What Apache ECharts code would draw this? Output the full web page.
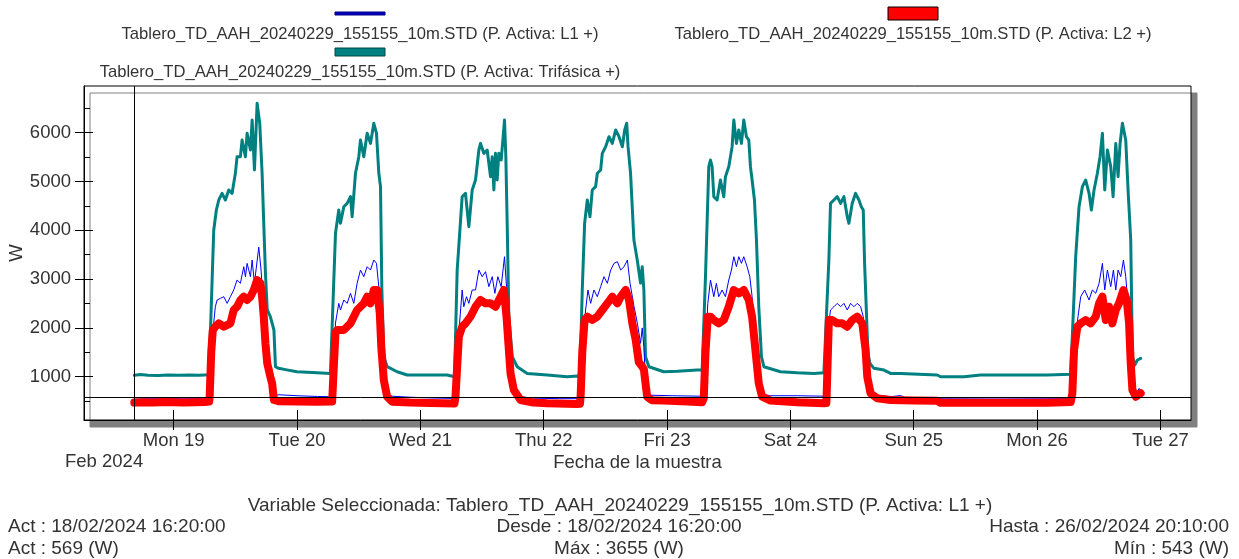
<!DOCTYPE html>
<html><head><meta charset="utf-8">
<script src="https://cdn.jsdelivr.net/npm/echarts@6/dist/echarts.min.js"></script>
<style>html,body{margin:0;padding:0;background:#fff}#c{width:1239px;height:559px}</style>
</head><body><div id="c"></div>
<script>
// ---- data: [hours since 2024-02-19 00:00, W] ----
const seriesNames = [
  'Tablero_TD_AAH_20240229_155155_10m.STD (P. Activa: L1 +)',
  'Tablero_TD_AAH_20240229_155155_10m.STD (P. Activa: L2 +)',
  'Tablero_TD_AAH_20240229_155155_10m.STD (P. Activa: Trifásica +)'
];
const dayTicks = ['2024-02-19','2024-02-20','2024-02-21','2024-02-22','2024-02-23','2024-02-24','2024-02-25','2024-02-26','2024-02-27'];
const dayLabels = ['Mon 19','Tue 20','Wed 21','Thu 22','Fri 23','Sat 24','Sun 25','Mon 26','Tue 27'];
const yLabelTicks = [1000,2000,3000,4000,5000,6000];
const yMinorTicks = [500,1500,2500,3500,4500,5500,6500];
const dataStart = '2024-02-18T16:20:00Z';
const dataEnd = '2024-02-26T20:10:00Z';
const actValue = 569, maxValue = 3655, minValue = 543;

const tri = [
[-7.67,1030],[-6.5,1045],[-5,1030],[-3,1025],[-1,1035],[1,1030],[3,1035],[5,1030],[6.82,1040],
[7.2,2100],[7.79,4006],[8.3,4416],[8.77,4621],[9.41,4758],[10.06,4621],[10.71,4826],[11.36,4758],[12.0,5168],[12.33,5508],[12.98,5508],[13.3,5850],[13.95,5508],[14.28,5988],[14.93,5645],[15.26,6260],[15.71,5236],[16.23,6602],[16.74,6193],[17.2,5168],[17.52,4143],[17.85,3119],[18.2,2367],[18.8,2230],[19.5,1957],[19.8,1205],[20.4,1172],[22,1140],[24,1102],[27,1085],[30.5,1068],
[30.83,1070],[31.48,3938],[32.12,4416],[32.45,4143],[33.1,4484],[33.75,4553],[34.4,4689],[34.72,4279],[35.37,5168],[36.02,5508],[36.34,5850],[36.99,5508],[37.64,5988],[38.29,5781],[38.94,6193],[39.46,5988],[39.91,5168],[40.24,4894],[40.5,2800],[40.88,1410],[41.53,1205],[43.48,1102],[45.43,1035],[50,1035],[53.22,1035],[54.64,1000],
[55.16,3186],[56.13,4689],[56.78,4758],[57.23,4279],[57.43,4074],[58.08,4826],[58.73,5031],[59.38,5645],[59.7,5781],[60.35,5577],[61.0,5645],[61.65,5099],[61.98,5508],[62.3,4826],[62.62,5577],[62.94,5031],[63.27,5577],[63.72,5440],[64.11,5918],[64.37,6260],[64.63,5508],[64.89,4143],[65.22,2230],[65.87,1410],[66.84,1205],[68.79,1068],[72.68,1035],[76.58,1000],[78.53,1015],[79.04,1000],
[79.5,2777],[79.96,4143],[80.48,4621],[81.0,4279],[81.45,4826],[82.1,4894],[82.43,5168],[83.08,5236],[83.4,5577],[84.05,5713],[84.7,5918],[85.35,5781],[86.0,6056],[86.65,5918],[87.3,5713],[87.76,6056],[88.15,6193],[88.41,5713],[88.9,5168],[89.55,3801],[90.2,3391],[90.84,2920],[91.17,3254],[91.49,2777],[91.81,1410],[92.47,1205],[95.36,1102],[98,1110],[101.85,1136],[102.83,1136],
[103.48,3050],[104.12,5304],[104.45,5440],[104.77,5304],[105.1,4689],[105.74,4621],[106.39,5031],[107.04,4689],[107.36,5099],[108.01,5304],[108.66,5713],[108.99,6260],[109.5,5781],[109.96,6056],[110.48,5781],[110.93,6260],[111.45,5918],[111.91,5850],[112.23,5304],[112.55,5031],[113.01,4621],[113.4,3801],[113.85,2434],[114.37,1410],[114.84,1205],[118.08,1102],[121.32,1080],[124.57,1068],[126.52,1080],[126.84,1102],
[127.49,3391],[127.81,4553],[128.47,4621],[129.12,4689],[129.77,4553],[130.42,4689],[131.07,4279],[131.39,4143],[132.04,4553],[132.69,4758],[133.34,4621],[133.8,4484],[134.18,4416],[134.44,3323],[134.83,2230],[135.09,1478],[135.48,1274],[136.26,1172],[138.21,1136],[139.5,1068],[141.45,1068],[145,1050],[148.59,1035],[149.24,1000],[153.78,1000],[157.03,1035],[163.52,1035],[170.0,1035],[174.55,1050],
[174.87,1060],[175.52,3459],[176.17,4484],[176.82,4894],[177.47,5031],[178.12,4758],[178.57,4416],[179.09,4826],[179.74,5168],[180.26,5508],[180.72,5988],[181.17,4826],[181.69,5645],[182.34,5304],[182.8,4689],[183.32,5781],[183.77,5099],[184.16,5781],[184.61,6193],[185.26,5850],[185.71,4826],[186.23,3801],[186.56,1410],[187.01,1240],[187.53,1342],[188.17,1376]
];

const l1 = [
[-7.67,569],[-6,560],[-4,558],[-2,560],[0,557],[2,560],[4,558],[6.9,560],
[7.0,600],[7.5,1800],[8.1,2434],[8.45,2572],[9.1,2606],[9.74,2640],[10.4,2503],[11.03,2640],[11.68,2777],[12.33,2982],[12.98,2914],[13.63,3254],[13.96,3050],[14.28,3323],[14.93,3050],[15.26,3391],[15.71,2914],[16.55,3655],[17.0,3186],[17.3,2700],[17.52,2300],[17.85,1750],[18.2,1320],[18.8,1040],[19.15,900],[19.5,620],[20.5,630],[24,610],[28,595],[30.83,590],
[31.15,1300],[31.48,2100],[32.12,2503],[32.45,2367],[33.1,2572],[33.75,2503],[34.4,2709],[35.04,2503],[35.69,2914],[36.34,3186],[36.99,3050],[37.64,3254],[38.29,3186],[38.94,3391],[39.46,3323],[39.91,2845],[40.24,2150],[40.5,1650],[40.88,980],[41.53,640],[42.5,600],[46,580],[50,565],[54.64,555],
[54.83,700],[55.48,1900],[56.13,2777],[56.45,2434],[56.97,2640],[57.43,2503],[58.08,2777],[58.73,2777],[59.38,3186],[60.03,3050],[60.68,3152],[61.33,2845],[61.98,3050],[62.49,2709],[63.07,3050],[63.72,2845],[64.37,3459],[64.76,2845],[65.22,1600],[65.54,1120],[66.19,780],[67.49,590],[70,560],[75,550],[79.04,550],
[79.18,620],[79.5,1600],[80.15,2367],[80.61,2777],[81.13,2503],[81.78,2777],[82.43,2640],[83.08,2845],[83.73,3050],[84.38,2914],[85.03,3186],[85.68,3323],[86.33,3357],[86.98,3186],[87.63,3254],[88.28,3391],[88.8,2914],[89.58,2434],[90.23,2093],[90.84,1684],[91.17,2000],[91.49,1600],[91.81,950],[92.14,650],[93,620],[97,610],[102.83,600],
[103.15,700],[103.48,1600],[103.93,2500],[104.45,2982],[105.1,2640],[105.6,2914],[106.06,2640],[106.71,2777],[107.36,2640],[108.01,2982],[108.53,3186],[108.99,3459],[109.5,3254],[109.96,3459],[110.48,3323],[110.93,3459],[111.58,3254],[112.1,3050],[112.55,2640],[113.2,1650],[113.85,920],[114.5,640],[116.13,610],[121.32,610],[127.0,600],
[127.04,650],[127.49,2100],[127.81,2367],[128.47,2434],[129.12,2503],[129.77,2434],[130.42,2503],[131.07,2367],[131.72,2503],[132.37,2434],[133.02,2503],[133.67,2434],[134.18,2230],[134.64,1600],[134.96,1050],[135.61,700],[136.91,625],[139.5,590],[141.45,615],[142.5,560],[150,548],[160,543],[170,548],[174.55,550],
[174.87,700],[175.2,1600],[175.97,2230],[176.5,2640],[177.27,2777],[178.12,2572],[178.77,2777],[179.42,2709],[180.07,2914],[180.72,3323],[181.17,2777],[181.69,3186],[182.34,2845],[182.86,3186],[183.32,2777],[183.77,3186],[184.29,3050],[184.81,3391],[185.26,3050],[185.58,2640],[185.91,2150],[186.23,1330],[186.56,780],[187.21,640],[187.86,760],[188.17,700]
];

const l2 = [
[-7.67,470],[-6,475],[-4,470],[-2,480],[0,475],[2,470],[4,475],[6,480],[6.9,490],
[7.0,600],[7.3,1500],[7.6,1950],[8.1,2025],[8.77,2093],[9.74,2025],[11.03,2093],[11.68,2367],[12.33,2434],[12.98,2572],[13.63,2640],[14.28,2572],[14.93,2640],[15.58,2777],[16.23,2982],[16.87,2914],[17.2,2640],[17.52,2230],[17.85,1684],[18.2,1274],[18.8,1000],[19.15,863],[19.5,523],[20.5,495],[24,490],[28,488],[30.83,490],
[31.15,1200],[31.48,1900],[31.8,1957],[33.1,1957],[34.4,2093],[35.69,2367],[36.99,2503],[37.64,2640],[38.29,2503],[38.94,2777],[39.59,2777],[40.1,2300],[40.4,1600],[40.88,932],[41.53,590],[42.5,488],[46,470],[50,460],[54.64,450],
[54.83,590],[55.48,1820],[56.13,2025],[56.78,2093],[57.75,2230],[58.73,2434],[59.7,2572],[60.68,2503],[61.65,2503],[62.62,2434],[63.6,2640],[64.24,2777],[64.76,2230],[65.22,1547],[65.54,1068],[66.19,727],[67.49,523],[70,470],[72.68,455],[78.53,441],[79.05,445],
[79.18,590],[79.5,1500],[79.96,2162],[80.48,2230],[81.45,2162],[82.43,2230],[83.4,2367],[84.38,2503],[85.35,2640],[86.33,2503],[86.98,2640],[87.95,2777],[88.6,2572],[89.25,2093],[89.9,1752],[90.5,1300],[91.17,1205],[91.49,1150],[91.81,863],[92.14,590],[93,520],[95.36,510],[100,490],[102.83,475],
[103.15,560],[103.48,1500],[103.93,2230],[104.45,2230],[105.1,2162],[106.06,2093],[107.04,2162],[108.01,2434],[108.99,2777],[109.96,2709],[110.93,2777],[111.91,2572],[112.55,2230],[113.2,1547],[113.85,863],[114.5,590],[116.13,510],[121.32,475],[126.52,455],[127.0,460],
[127.04,560],[127.49,2162],[128.14,2162],[129.12,2093],[130.09,2093],[131.07,2025],[132.04,2162],[133.02,2230],[133.99,2093],[134.64,1547],[134.96,1000],[135.61,659],[136.91,556],[139.5,523],[144,515],[148.5,510],[149.2,465],[160,465],[170,468],[174.55,480],
[174.87,660],[175.2,1547],[175.85,2025],[176.5,2093],[177.47,2162],[178.44,2093],[179.42,2230],[180.07,2503],[180.72,2640],[181.37,2162],[182.02,2434],[182.66,2093],[183.32,2367],[183.96,2503],[184.81,2777],[185.45,2572],[185.91,2093],[186.23,1274],[186.56,727],[187.21,590],[188.17,660]
];

// ---- build (x in hours since 2024-02-19 00:00 UTC) ----
const T0 = Date.UTC(2024,1,19,0,0,0);
const H = 3600000;
const hStart = (Date.parse(dataStart) - T0) / H, hEnd = (Date.parse(dataEnd) - T0) / H;
const pad = (hEnd - hStart) * 0.05;
const xMin = hStart - pad, xMax = hEnd + pad;
const yMin = 113, yMax = 6957;
const dayHours = dayTicks.map(d => (Date.parse(d + 'T00:00:00Z') - T0) / H);
const FONT = '"Liberation Sans", Arial, sans-serif';
const TXT = '#333333';

const xBase = {type:'value', gridIndex:0, min:xMin, max:xMax, position:'bottom', splitLine:{show:false}};
const yBase = {type:'value', gridIndex:0, min:yMin, max:yMax, position:'left', splitLine:{show:false}};

function txt(x, y, s, size, align) {
  return {type:'text', x:x, y:y, z:10, style:{text:s, fill:TXT, font:size + 'px ' + FONT,
    textAlign:align, textVerticalAlign:'middle', align:align, verticalAlign:'middle'}};
}

const option = {
  animation: false,
  backgroundColor: '#ffffff',
  grid: {left:84, top:86, width:1107, height:334, containLabel:false, outerBoundsMode:'none',
         show:true, backgroundColor:'#ffffff',
         borderColor:'#000', borderWidth:1, shadowColor:'#808080', shadowBlur:0, shadowOffsetX:6, shadowOffsetY:7},
  xAxis: [
    Object.assign({}, xBase, {
      name:'Fecha de la muestra', nameLocation:'middle', nameGap:33, nameMoveOverlap:false,
      nameTextStyle:{color:TXT, fontSize:18.5, fontFamily:FONT},
      axisLine:{show:true, onZero:false, lineStyle:{color:'#000', width:1}},
      axisTick:{show:true, inside:false, length:10, customValues:dayHours, lineStyle:{color:'#000'}},
      axisLabel:{show:true, margin:11, customValues:dayHours, color:TXT, fontSize:18.5, fontFamily:FONT,
        formatter: v => { const i = dayHours.indexOf(v); return i >= 0 ? dayLabels[i] : ''; }}
    }),
    Object.assign({}, xBase, {
      axisLine:{show:false, onZero:false},
      axisTick:{show:true, inside:true, length:10, customValues:dayHours, lineStyle:{color:'#000'}},
      axisLabel:{show:false}
    })
  ],
  yAxis: [
    Object.assign({}, yBase, {
      name:'W', nameLocation:'middle', nameGap:58, nameRotate:90, nameMoveOverlap:false,
      nameTextStyle:{color:TXT, fontSize:18.5, fontFamily:FONT},
      axisLine:{show:true, onZero:false, lineStyle:{color:'#000', width:1}},
      axisTick:{show:true, inside:false, length:9, customValues:yLabelTicks, lineStyle:{color:'#000'}},
      axisLabel:{show:true, margin:13, customValues:yLabelTicks, color:TXT, fontSize:18.5, fontFamily:FONT,
        formatter: v => String(v)}
    }),
    Object.assign({}, yBase, {
      axisLine:{show:false, onZero:false},
      axisTick:{show:true, inside:true, length:9, customValues:yLabelTicks, lineStyle:{color:'#000'}},
      axisLabel:{show:false}
    }),
    Object.assign({}, yBase, {
      axisLine:{show:false, onZero:false},
      axisTick:{show:true, inside:true, length:6, customValues:yMinorTicks, lineStyle:{color:'#000'}},
      axisLabel:{show:false}
    })
  ],
  series: [
    {name:seriesNames[2], type:'line', xAxisIndex:0, yAxisIndex:0, data:tri, showSymbol:false, symbol:'none',
     lineStyle:{color:'#008080', width:3, cap:'round', join:'round'}, z:2},
    {name:seriesNames[0], type:'line', xAxisIndex:0, yAxisIndex:0, data:l1, showSymbol:false, symbol:'none',
     lineStyle:{color:'#0000ff', width:1}, z:3,
     markLine:{silent:true, symbol:'none', label:{show:false}, animation:false,
       lineStyle:{color:'#000', width:1, type:'solid'},
       data:[{xAxis:hStart}, {yAxis:actValue}]}},
    {name:seriesNames[1], type:'line', xAxisIndex:0, yAxisIndex:0, data:l2, showSymbol:false, symbol:'none',
     lineStyle:{color:'#ff0000', width:8, cap:'round', join:'round'}, z:4}
  ],
  graphic: [
    {type:'rect', shape:{x:335, y:12, width:50, height:3}, style:{fill:'#0000c0', stroke:'#000080', lineWidth:1}},
    txt(360, 34, seriesNames[0], 16.6, 'center'),
    {type:'rect', shape:{x:888, y:7, width:50, height:13}, style:{fill:'#ff0000', stroke:'#000', lineWidth:1}},
    txt(913, 34, seriesNames[1], 16.6, 'center'),
    {type:'rect', shape:{x:335, y:48, width:50, height:8}, style:{fill:'#008080', stroke:'#004848', lineWidth:1}},
    txt(360, 72, seriesNames[2], 16.6, 'center'),
    txt(65, 462, 'Feb 2024', 18.5, 'left'),
    txt(620, 506, 'Variable Seleccionada: ' + seriesNames[0], 19, 'center'),
    txt(8, 527, 'Act : 18/02/2024 16:20:00', 19, 'left'),
    txt(619, 527, 'Desde : 18/02/2024 16:20:00', 19, 'center'),
    txt(1229, 527, 'Hasta : 26/02/2024 20:10:00', 19, 'right'),
    txt(8, 549, 'Act : ' + actValue + ' (W)', 19, 'left'),
    txt(619, 549, 'Máx : ' + maxValue + ' (W)', 19, 'center'),
    txt(1229, 549, 'Mín : ' + minValue + ' (W)', 19, 'right')
  ]
};
const chart = echarts.init(document.getElementById('c'), null, {renderer:'canvas'});
chart.setOption(option);
</script></body></html>
